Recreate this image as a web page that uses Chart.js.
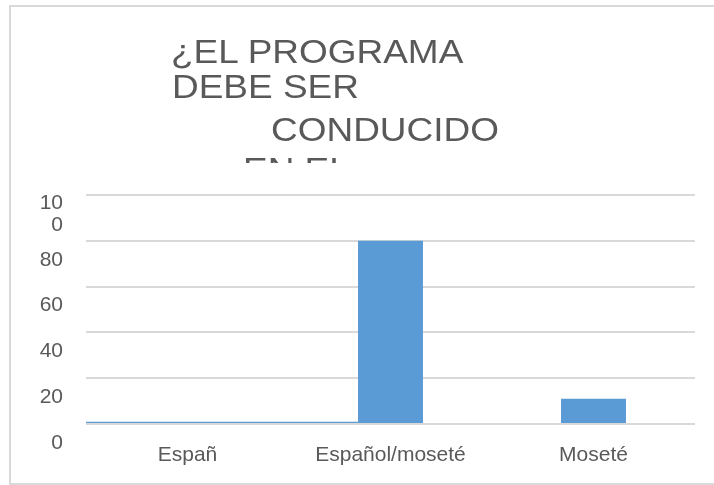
<!DOCTYPE html>
<html>
<head>
<meta charset="utf-8">
<script src="https://cdn.jsdelivr.net/npm/chart.js@4"></script>
<style>
  html, body { margin: 0; padding: 0; background: #fff; overflow: hidden; }
  #wrap { position: relative; width: 714px; height: 485px; overflow: hidden; }
  #frame { position: absolute; left: 9px; top: 5px; width: 800px; height: 476px; border: 2px solid #d9d9d9; box-sizing: content-box; }
  #c { position: absolute; left: 0; top: 0; }
  #title { position: absolute; left: 0; top: 0; width: 714px; height: 163px; overflow: hidden;
           font-family: "Liberation Sans", Arial, sans-serif; font-size: 33px; line-height: 33px; color: #595959; }
  #title div { position: absolute; white-space: pre; transform: scaleX(1.12); transform-origin: left top; }
</style>
</head>
<body>
<div id="wrap">
  <div id="frame"></div>
  <canvas id="c" width="714" height="485"></canvas>
  <div id="title">
    <div style="left:171px; top:35px;">¿EL PROGRAMA</div>
    <div style="left:172px; top:70px;">DEBE SER</div>
    <div style="left:271px; top:113px;">CONDUCIDO</div>
    <div style="left:243px; top:153px;">EN EL</div>
  </div>
</div>
<script>
const categories = ["Españ", "Español/moseté", "Moseté"];
const values = [1, 80, 11];
const yTickLabels = { 0: "0", 20: "20", 40: "40", 60: "60", 80: "80", 100: ["10", "0"] };

const barColor = "#5b9bd5";
const textColor = "#595959";
const gridColor = "#d9d9d9";
const fontFamily = "'Liberation Sans', Arial, sans-serif";

new Chart(document.getElementById("c"), {
  type: "bar",
  data: {
    labels: categories,
    datasets: [
      {
        data: values.map((v, i) => (i === 0 ? v : null)),
        backgroundColor: barColor,
        borderWidth: 0,
        barPercentage: 1.68,
        categoryPercentage: 1,
        grouped: false,
        clip: 0
      },
      {
        data: values.map((v, i) => (i === 0 ? null : v)),
        backgroundColor: barColor,
        borderWidth: 0,
        barPercentage: 0.32,
        categoryPercentage: 1,
        grouped: false,
        clip: 0
      }
    ]
  },
  options: {
    responsive: false,
    animation: false,
    layout: { padding: { top: 195, right: 19, bottom: 0, left: 0 } },
    plugins: { legend: { display: false }, tooltip: { enabled: false }, title: { display: false } },
    scales: {
      x: {
        grid: { display: false, drawTicks: false },
        border: { display: false },
        ticks: { color: textColor, font: { family: fontFamily, size: 21 }, padding: 19, maxRotation: 0, autoSkip: false },
        afterFit: (s) => { s.height = 61; }
      },
      y: {
        min: 0,
        max: 100,
        grid: { color: gridColor, lineWidth: 2, drawTicks: false },
        border: { display: false },
        ticks: {
          stepSize: 20,
          autoSkip: false,
          color: textColor,
          font: { family: fontFamily, size: 21, lineHeight: 1.05 },
          padding: 23,
          labelOffset: 19,
          callback: (v) => yTickLabels[v]
        },
        afterFit: (s) => { s.width = 86; }
      }
    }
  }
});
</script>
</body>
</html>
